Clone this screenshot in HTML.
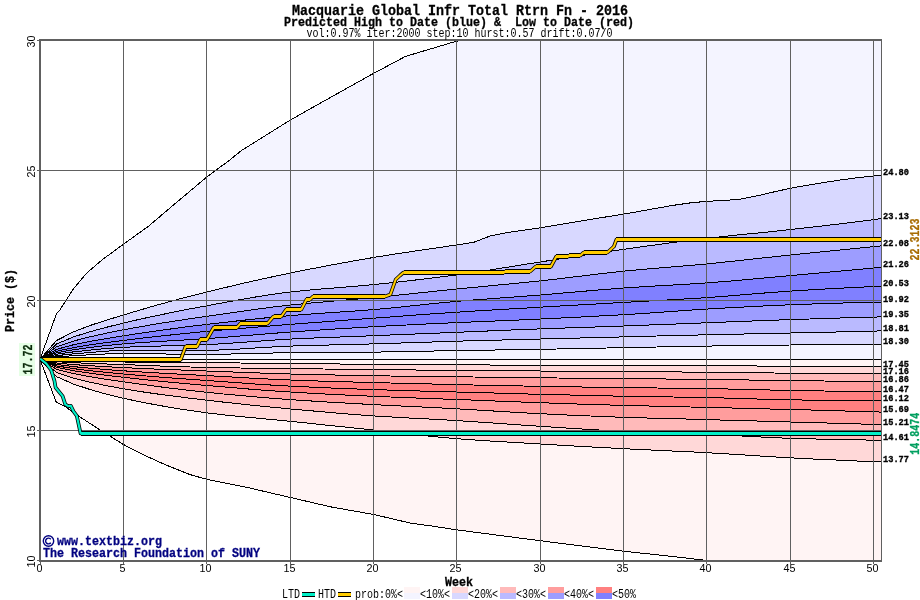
<!DOCTYPE html>
<html><head><meta charset="utf-8"><title>Predicted High to Date / Low to Date</title>
<style>
html,body{margin:0;padding:0;background:#ffffff;}
body{width:920px;height:600px;overflow:hidden;font-family:"Liberation Mono",monospace;}
svg{display:block;position:absolute;left:0;top:0;}
svg{font-family:"Liberation Mono",monospace;}
.b{font-weight:bold;}
</style></head><body>
<svg width="920" height="600" viewBox="0 0 920 600">
<defs><clipPath id="plot"><rect x="40" y="40" width="841" height="520"/></clipPath></defs>
<rect x="0" y="0" width="920" height="600" fill="#ffffff"/>
<g clip-path="url(#plot)" shape-rendering="crispEdges">
<polygon fill="#f4f4ff" points="40.0,359.3 56.4,313.9 56.7,313.6 59.8,310.0 73.3,289.0 73.5,288.8 87.2,272.5 90.0,270.2 103.5,258.8 106.7,256.4 123.4,244.4 123.5,244.2 140.0,232.3 148.5,226.2 156.7,219.3 173.4,205.1 173.5,205.0 190.0,191.1 206.7,177.0 206.8,177.0 223.4,164.7 229.8,160.0 240.1,151.6 241.2,150.7 256.7,141.0 273.4,130.6 290.1,120.2 290.2,120.1 306.8,110.8 323.4,101.4 324.8,100.6 340.1,92.1 356.8,82.7 373.4,73.4 373.5,73.4 390.1,64.6 405.5,56.4 406.8,56.0 423.5,51.0 440.1,46.1 456.8,41.1 465.0,40.0 473.5,20.0 490.1,20.0 506.8,20.0 523.5,20.0 540.2,20.0 556.8,20.0 573.5,20.0 590.2,20.0 606.8,20.0 623.5,20.0 640.2,20.0 656.9,20.0 673.5,20.0 690.2,20.0 706.9,20.0 723.6,20.0 740.2,20.0 756.9,20.0 773.6,20.0 790.2,20.0 806.9,20.0 823.6,20.0 840.3,20.0 856.9,20.0 873.6,20.0 881.0,20.0 881.0,175.2 873.6,176.0 856.9,177.8 840.3,180.0 823.6,182.5 806.9,185.3 790.2,188.3 773.6,192.0 756.9,195.9 740.2,199.2 723.6,200.5 706.9,201.3 690.2,202.9 673.5,205.3 656.9,208.2 640.2,211.2 623.5,214.1 606.8,216.8 590.2,219.5 573.5,222.3 556.8,225.0 540.2,227.8 523.5,230.2 506.8,232.7 490.1,236.0 473.5,242.4 456.8,244.9 440.1,247.4 423.5,249.8 406.8,252.3 390.1,254.8 373.4,257.5 356.8,260.4 340.1,263.4 323.4,266.5 306.8,269.7 290.1,273.1 273.4,276.6 256.7,280.2 240.1,284.0 223.4,288.0 206.7,292.0 190.0,296.2 173.4,300.6 156.7,305.2 140.0,310.0 123.4,315.0 106.7,320.1 90.0,325.5 73.3,332.0 56.7,340.4 40.0,359.3"/>
<polygon fill="#d8d8ff" points="40.0,359.3 56.7,340.4 73.3,332.0 90.0,325.5 106.7,320.1 123.4,315.0 140.0,310.0 156.7,305.2 173.4,300.6 190.0,296.2 206.7,292.0 223.4,288.0 240.1,284.0 256.7,280.2 273.4,276.6 290.1,273.1 306.8,269.7 323.4,266.5 340.1,263.4 356.8,260.4 373.4,257.5 390.1,254.8 406.8,252.3 423.5,249.8 440.1,247.4 456.8,244.9 473.5,242.4 490.1,236.0 506.8,232.7 523.5,230.2 540.2,227.8 556.8,225.0 573.5,222.3 590.2,219.5 606.8,216.8 623.5,214.1 640.2,211.2 656.9,208.2 673.5,205.3 690.2,202.9 706.9,201.3 723.6,200.5 740.2,199.2 756.9,195.9 773.6,192.0 790.2,188.3 806.9,185.3 823.6,182.5 840.3,180.0 856.9,177.8 873.6,176.0 881.0,175.2 881.0,218.6 873.6,219.7 856.9,221.8 840.3,223.8 823.6,225.8 806.9,227.7 790.2,229.6 773.6,231.4 756.9,233.1 740.2,234.7 723.6,236.5 706.9,238.3 690.2,240.3 673.5,242.4 656.9,244.7 640.2,247.0 623.5,249.3 606.8,251.7 590.2,254.2 573.5,256.8 556.8,259.4 540.2,262.0 523.5,264.6 506.8,267.3 490.1,270.0 473.5,272.6 456.8,274.9 440.1,277.0 423.5,279.1 406.8,281.0 390.1,282.9 373.4,284.6 356.8,286.1 340.1,287.5 323.4,288.8 306.8,290.3 290.1,292.0 273.4,294.2 256.7,296.8 240.1,299.7 223.4,302.7 206.7,305.8 190.0,308.9 173.4,312.2 156.7,315.6 140.0,319.2 123.4,323.1 106.7,327.2 90.0,331.7 73.3,337.0 56.7,343.9 40.0,359.3"/>
<polygon fill="#babaff" points="40.0,359.3 56.7,343.9 73.3,337.0 90.0,331.7 106.7,327.2 123.4,323.1 140.0,319.2 156.7,315.6 173.4,312.2 190.0,308.9 206.7,305.8 223.4,302.7 240.1,299.7 256.7,296.8 273.4,294.2 290.1,292.0 306.8,290.3 323.4,288.8 340.1,287.5 356.8,286.1 373.4,284.6 390.1,282.9 406.8,281.0 423.5,279.1 440.1,277.0 456.8,274.9 473.5,272.6 490.1,270.0 506.8,267.3 523.5,264.6 540.2,262.0 556.8,259.4 573.5,256.8 590.2,254.2 606.8,251.7 623.5,249.3 640.2,247.0 656.9,244.7 673.5,242.4 690.2,240.3 706.9,238.3 723.6,236.5 740.2,234.7 756.9,233.1 773.6,231.4 790.2,229.6 806.9,227.7 823.6,225.8 840.3,223.8 856.9,221.8 873.6,219.7 881.0,218.6 881.0,245.9 873.6,246.7 856.9,248.3 840.3,250.0 823.6,251.6 806.9,253.3 790.2,255.0 773.6,256.8 756.9,258.6 740.2,260.4 723.6,262.2 706.9,263.9 690.2,265.4 673.5,266.8 656.9,268.2 640.2,269.6 623.5,271.2 606.8,273.0 590.2,275.0 573.5,277.0 556.8,279.0 540.2,280.9 523.5,282.6 506.8,284.2 490.1,285.8 473.5,287.4 456.8,289.0 440.1,290.7 423.5,292.5 406.8,294.2 390.1,296.0 373.4,297.6 356.8,299.1 340.1,300.5 323.4,302.0 306.8,303.4 290.1,305.1 273.4,307.0 256.7,309.2 240.1,311.5 223.4,313.9 206.7,316.3 190.0,318.7 173.4,321.3 156.7,323.9 140.0,326.8 123.4,329.8 106.7,333.1 90.0,336.8 73.3,341.1 56.7,346.7 40.0,359.3"/>
<polygon fill="#9d9dff" points="40.0,359.3 56.7,346.7 73.3,341.1 90.0,336.8 106.7,333.1 123.4,329.8 140.0,326.8 156.7,323.9 173.4,321.3 190.0,318.7 206.7,316.3 223.4,313.9 240.1,311.5 256.7,309.2 273.4,307.0 290.1,305.1 306.8,303.4 323.4,302.0 340.1,300.5 356.8,299.1 373.4,297.6 390.1,296.0 406.8,294.2 423.5,292.5 440.1,290.7 456.8,289.0 473.5,287.4 490.1,285.8 506.8,284.2 523.5,282.6 540.2,280.9 556.8,279.0 573.5,277.0 590.2,275.0 606.8,273.0 623.5,271.2 640.2,269.6 656.9,268.2 673.5,266.8 690.2,265.4 706.9,263.9 723.6,262.2 740.2,260.4 756.9,258.6 773.6,256.8 790.2,255.0 806.9,253.3 823.6,251.6 840.3,250.0 856.9,248.3 873.6,246.7 881.0,245.9 881.0,267.2 873.6,268.0 856.9,269.6 840.3,271.1 823.6,272.6 806.9,274.1 790.2,275.6 773.6,277.1 756.9,278.7 740.2,280.2 723.6,281.6 706.9,282.9 690.2,284.0 673.5,285.0 656.9,285.9 640.2,286.9 623.5,288.0 606.8,289.3 590.2,290.7 573.5,292.1 556.8,293.6 540.2,295.0 523.5,296.3 506.8,297.5 490.1,298.8 473.5,300.0 456.8,301.4 440.1,302.9 423.5,304.6 406.8,306.4 390.1,308.1 373.4,309.6 356.8,310.9 340.1,312.0 323.4,313.1 306.8,314.3 290.1,315.6 273.4,317.1 256.7,318.8 240.1,320.6 223.4,322.5 206.7,324.4 190.0,326.4 173.4,328.6 156.7,330.9 140.0,333.3 123.4,335.8 106.7,338.5 90.0,341.4 73.3,344.8 56.7,349.3 40.0,359.3"/>
<polygon fill="#8080ff" points="40.0,359.3 56.7,349.3 73.3,344.8 90.0,341.4 106.7,338.5 123.4,335.8 140.0,333.3 156.7,330.9 173.4,328.6 190.0,326.4 206.7,324.4 223.4,322.5 240.1,320.6 256.7,318.8 273.4,317.1 290.1,315.6 306.8,314.3 323.4,313.1 340.1,312.0 356.8,310.9 373.4,309.6 390.1,308.1 406.8,306.4 423.5,304.6 440.1,302.9 456.8,301.4 473.5,300.0 490.1,298.8 506.8,297.5 523.5,296.3 540.2,295.0 556.8,293.6 573.5,292.1 590.2,290.7 606.8,289.3 623.5,288.0 640.2,286.9 656.9,285.9 673.5,285.0 690.2,284.0 706.9,282.9 723.6,281.6 740.2,280.2 756.9,278.7 773.6,277.1 790.2,275.6 806.9,274.1 823.6,272.6 840.3,271.1 856.9,269.6 873.6,268.0 881.0,267.2 881.0,286.2 873.6,286.6 856.9,287.3 840.3,288.2 823.6,289.1 806.9,290.1 790.2,291.1 773.6,292.3 756.9,293.6 740.2,295.0 723.6,296.4 706.9,297.6 690.2,298.7 673.5,299.6 656.9,300.6 640.2,301.5 623.5,302.4 606.8,303.4 590.2,304.3 573.5,305.3 556.8,306.2 540.2,307.2 523.5,308.2 506.8,309.1 490.1,310.1 473.5,311.1 456.8,312.2 440.1,313.3 423.5,314.5 406.8,315.7 390.1,317.0 373.4,318.2 356.8,319.4 340.1,320.6 323.4,321.9 306.8,323.1 290.1,324.4 273.4,325.7 256.7,327.1 240.1,328.5 223.4,329.9 206.7,331.4 190.0,333.0 173.4,334.7 156.7,336.5 140.0,338.4 123.4,340.4 106.7,342.5 90.0,344.9 73.3,347.7 56.7,351.2 40.0,359.3"/>
<polygon fill="#8080ff" points="40.0,359.3 56.7,351.2 73.3,347.7 90.0,344.9 106.7,342.5 123.4,340.4 140.0,338.4 156.7,336.5 173.4,334.7 190.0,333.0 206.7,331.4 223.4,329.9 240.1,328.5 256.7,327.1 273.4,325.7 290.1,324.4 306.8,323.1 323.4,321.9 340.1,320.6 356.8,319.4 373.4,318.2 390.1,317.0 406.8,315.7 423.5,314.5 440.1,313.3 456.8,312.2 473.5,311.1 490.1,310.1 506.8,309.1 523.5,308.2 540.2,307.2 556.8,306.2 573.5,305.3 590.2,304.3 606.8,303.4 623.5,302.4 640.2,301.5 656.9,300.6 673.5,299.6 690.2,298.7 706.9,297.6 723.6,296.4 740.2,295.0 756.9,293.6 773.6,292.3 790.2,291.1 806.9,290.1 823.6,289.1 840.3,288.2 856.9,287.3 873.6,286.6 881.0,286.2 881.0,302.1 873.6,302.3 856.9,302.6 840.3,303.1 823.6,303.6 806.9,304.2 790.2,304.8 773.6,305.5 756.9,306.3 740.2,307.2 723.6,308.1 706.9,309.1 690.2,310.1 673.5,311.3 656.9,312.5 640.2,313.7 623.5,314.7 606.8,315.6 590.2,316.5 573.5,317.4 556.8,318.2 540.2,319.0 523.5,319.8 506.8,320.5 490.1,321.2 473.5,321.9 456.8,322.6 440.1,323.4 423.5,324.1 406.8,325.0 390.1,325.8 373.4,326.7 356.8,327.7 340.1,328.7 323.4,329.8 306.8,330.9 290.1,332.1 273.4,333.3 256.7,334.7 240.1,336.0 223.4,337.4 206.7,338.6 190.0,339.7 173.4,340.6 156.7,341.6 140.0,342.6 123.4,343.9 106.7,345.5 90.0,347.5 73.3,349.8 56.7,352.7 40.0,359.3"/>
<polygon fill="#9d9dff" points="40.0,359.3 56.7,352.7 73.3,349.8 90.0,347.5 106.7,345.5 123.4,343.9 140.0,342.6 156.7,341.6 173.4,340.6 190.0,339.7 206.7,338.6 223.4,337.4 240.1,336.0 256.7,334.7 273.4,333.3 290.1,332.1 306.8,330.9 323.4,329.8 340.1,328.7 356.8,327.7 373.4,326.7 390.1,325.8 406.8,325.0 423.5,324.1 440.1,323.4 456.8,322.6 473.5,321.9 490.1,321.2 506.8,320.5 523.5,319.8 540.2,319.0 556.8,318.2 573.5,317.4 590.2,316.5 606.8,315.6 623.5,314.7 640.2,313.7 656.9,312.5 673.5,311.3 690.2,310.1 706.9,309.1 723.6,308.1 740.2,307.2 756.9,306.3 773.6,305.5 790.2,304.8 806.9,304.2 823.6,303.6 840.3,303.1 856.9,302.6 873.6,302.3 881.0,302.1 881.0,316.9 873.6,317.1 856.9,317.6 840.3,318.0 823.6,318.5 806.9,319.1 790.2,319.6 773.6,320.2 756.9,320.8 740.2,321.5 723.6,322.1 706.9,322.8 690.2,323.4 673.5,324.1 656.9,324.7 640.2,325.4 623.5,326.0 606.8,326.6 590.2,327.2 573.5,327.7 556.8,328.3 540.2,328.9 523.5,329.5 506.8,330.2 490.1,330.9 473.5,331.6 456.8,332.3 440.1,333.0 423.5,333.7 406.8,334.3 390.1,335.0 373.4,335.7 356.8,336.4 340.1,337.0 323.4,337.6 306.8,338.3 290.1,339.1 273.4,340.1 256.7,341.3 240.1,342.5 223.4,343.7 206.7,344.6 190.0,345.2 173.4,345.7 156.7,346.1 140.0,346.6 123.4,347.3 106.7,348.5 90.0,350.1 73.3,351.9 56.7,354.2 40.0,359.3"/>
<polygon fill="#babaff" points="40.0,359.3 56.7,354.2 73.3,351.9 90.0,350.1 106.7,348.5 123.4,347.3 140.0,346.6 156.7,346.1 173.4,345.7 190.0,345.2 206.7,344.6 223.4,343.7 240.1,342.5 256.7,341.3 273.4,340.1 290.1,339.1 306.8,338.3 323.4,337.6 340.1,337.0 356.8,336.4 373.4,335.7 390.1,335.0 406.8,334.3 423.5,333.7 440.1,333.0 456.8,332.3 473.5,331.6 490.1,330.9 506.8,330.2 523.5,329.5 540.2,328.9 556.8,328.3 573.5,327.7 590.2,327.2 606.8,326.6 623.5,326.0 640.2,325.4 656.9,324.7 673.5,324.1 690.2,323.4 706.9,322.8 723.6,322.1 740.2,321.5 756.9,320.8 773.6,320.2 790.2,319.6 806.9,319.1 823.6,318.5 840.3,318.0 856.9,317.6 873.6,317.1 881.0,316.9 881.0,330.9 873.6,331.1 856.9,331.5 840.3,331.9 823.6,332.3 806.9,332.6 790.2,333.0 773.6,333.4 756.9,333.7 740.2,334.1 723.6,334.4 706.9,334.8 690.2,335.2 673.5,335.6 656.9,336.0 640.2,336.5 623.5,336.9 606.8,337.3 590.2,337.7 573.5,338.2 556.8,338.6 540.2,339.0 523.5,339.4 506.8,339.9 490.1,340.3 473.5,340.7 456.8,341.2 440.1,341.7 423.5,342.3 406.8,342.8 390.1,343.4 373.4,343.9 356.8,344.3 340.1,344.8 323.4,345.1 306.8,345.6 290.1,346.1 273.4,346.9 256.7,347.9 240.1,349.0 223.4,349.9 206.7,350.3 190.0,350.4 173.4,350.4 156.7,350.4 140.0,350.4 123.4,350.5 106.7,351.1 90.0,352.5 73.3,353.9 56.7,355.6 40.0,359.3"/>
<polygon fill="#d8d8ff" points="40.0,359.3 56.7,355.6 73.3,353.9 90.0,352.5 106.7,351.1 123.4,350.5 140.0,350.4 156.7,350.4 173.4,350.4 190.0,350.4 206.7,350.3 223.4,349.9 240.1,349.0 256.7,347.9 273.4,346.9 290.1,346.1 306.8,345.6 323.4,345.1 340.1,344.8 356.8,344.3 373.4,343.9 390.1,343.4 406.8,342.8 423.5,342.3 440.1,341.7 456.8,341.2 473.5,340.7 490.1,340.3 506.8,339.9 523.5,339.4 540.2,339.0 556.8,338.6 573.5,338.2 590.2,337.7 606.8,337.3 623.5,336.9 640.2,336.5 656.9,336.0 673.5,335.6 690.2,335.2 706.9,334.8 723.6,334.4 740.2,334.1 756.9,333.7 773.6,333.4 790.2,333.0 806.9,332.6 823.6,332.3 840.3,331.9 856.9,331.5 873.6,331.1 881.0,330.9 881.0,344.2 873.6,344.3 856.9,344.4 840.3,344.5 823.6,344.7 806.9,344.8 790.2,345.0 773.6,345.2 756.9,345.4 740.2,345.6 723.6,345.8 706.9,346.1 690.2,346.4 673.5,346.7 656.9,347.0 640.2,347.4 623.5,347.7 606.8,348.0 590.2,348.4 573.5,348.7 556.8,349.0 540.2,349.3 523.5,349.6 506.8,349.8 490.1,350.1 473.5,350.3 456.8,350.6 440.1,350.9 423.5,351.2 406.8,351.6 390.1,351.9 373.4,352.1 356.8,352.2 340.1,352.4 323.4,352.4 306.8,352.6 290.1,352.7 273.4,353.0 256.7,353.4 240.1,353.8 223.4,354.2 206.7,354.4 190.0,354.3 173.4,354.1 156.7,353.9 140.0,353.6 123.4,353.5 106.7,353.9 90.0,354.8 73.3,355.7 56.7,356.8 40.0,359.3"/>
<polygon fill="#f4f4ff" points="40.0,359.3 56.7,356.8 73.3,355.7 90.0,354.8 106.7,353.9 123.4,353.5 140.0,353.6 156.7,353.9 173.4,354.1 190.0,354.3 206.7,354.4 223.4,354.2 240.1,353.8 256.7,353.4 273.4,353.0 290.1,352.7 306.8,352.6 323.4,352.4 340.1,352.4 356.8,352.2 373.4,352.1 390.1,351.9 406.8,351.6 423.5,351.2 440.1,350.9 456.8,350.6 473.5,350.3 490.1,350.1 506.8,349.8 523.5,349.6 540.2,349.3 556.8,349.0 573.5,348.7 590.2,348.4 606.8,348.0 623.5,347.7 640.2,347.4 656.9,347.0 673.5,346.7 690.2,346.4 706.9,346.1 723.6,345.8 740.2,345.6 756.9,345.4 773.6,345.2 790.2,345.0 806.9,344.8 823.6,344.7 840.3,344.5 856.9,344.4 873.6,344.3 881.0,344.2 881.0,359.3 873.6,359.3 856.9,359.3 840.3,359.3 823.6,359.3 806.9,359.3 790.2,359.3 773.6,359.3 756.9,359.3 740.2,359.3 723.6,359.3 706.9,359.3 690.2,359.3 673.5,359.3 656.9,359.3 640.2,359.3 623.5,359.3 606.8,359.3 590.2,359.3 573.5,359.3 556.8,359.3 540.2,359.3 523.5,359.3 506.8,359.3 490.1,359.3 473.5,359.3 456.8,359.3 440.1,359.3 423.5,359.3 406.8,359.3 390.1,359.3 373.4,359.3 356.8,359.3 340.1,359.3 323.4,359.3 306.8,359.3 290.1,359.3 273.4,359.3 256.7,359.3 240.1,359.3 223.4,359.3 206.7,359.3 190.0,359.3 173.4,359.3 156.7,359.3 140.0,359.3 123.4,359.3 106.7,359.3 90.0,359.3 73.3,359.3 56.7,359.3 40.0,359.3"/>
<polygon fill="#fff4f4" points="40.0,359.3 56.7,359.3 73.3,359.3 90.0,359.3 106.7,359.3 123.4,359.3 140.0,359.3 156.7,359.3 173.4,359.3 190.0,359.3 206.7,359.3 223.4,359.3 240.1,359.3 256.7,359.3 273.4,359.3 290.1,359.3 306.8,359.3 323.4,359.3 340.1,359.3 356.8,359.3 373.4,359.3 390.1,359.3 406.8,359.3 423.5,359.3 440.1,359.3 456.8,359.3 473.5,359.3 490.1,359.3 506.8,359.3 523.5,359.3 540.2,359.3 556.8,359.3 573.5,359.3 590.2,359.3 606.8,359.3 623.5,359.3 640.2,359.3 656.9,359.3 673.5,359.3 690.2,359.3 706.9,359.3 723.6,359.3 740.2,359.3 756.9,359.3 773.6,359.3 790.2,359.3 806.9,359.3 823.6,359.3 840.3,359.3 856.9,359.3 873.6,359.3 881.0,359.3 881.0,366.3 873.6,366.3 856.9,366.3 840.3,366.2 823.6,366.2 806.9,366.1 790.2,366.1 773.6,366.0 756.9,366.0 740.2,365.9 723.6,365.9 706.9,365.8 690.2,365.7 673.5,365.7 656.9,365.6 640.2,365.6 623.5,365.5 606.8,365.4 590.2,365.4 573.5,365.3 556.8,365.3 540.2,365.2 523.5,365.1 506.8,365.1 490.1,365.0 473.5,364.9 456.8,364.8 440.1,364.7 423.5,364.6 406.8,364.5 390.1,364.4 373.4,364.3 356.8,364.2 340.1,364.0 323.4,363.9 306.8,363.8 290.1,363.6 273.4,363.4 256.7,363.2 240.1,363.0 223.4,362.8 206.7,362.6 190.0,362.5 173.4,362.4 156.7,362.3 140.0,362.2 123.4,362.0 106.7,361.7 90.0,361.4 73.3,361.0 56.7,360.5 40.0,359.3"/>
<polygon fill="#ffd8d8" points="40.0,359.3 56.7,360.5 73.3,361.0 90.0,361.4 106.7,361.7 123.4,362.0 140.0,362.2 156.7,362.3 173.4,362.4 190.0,362.5 206.7,362.6 223.4,362.8 240.1,363.0 256.7,363.2 273.4,363.4 290.1,363.6 306.8,363.8 323.4,363.9 340.1,364.0 356.8,364.2 373.4,364.3 390.1,364.4 406.8,364.5 423.5,364.6 440.1,364.7 456.8,364.8 473.5,364.9 490.1,365.0 506.8,365.1 523.5,365.1 540.2,365.2 556.8,365.3 573.5,365.3 590.2,365.4 606.8,365.4 623.5,365.5 640.2,365.6 656.9,365.6 673.5,365.7 690.2,365.7 706.9,365.8 723.6,365.9 740.2,365.9 756.9,366.0 773.6,366.0 790.2,366.1 806.9,366.1 823.6,366.2 840.3,366.2 856.9,366.3 873.6,366.3 881.0,366.3 881.0,373.8 873.6,373.8 856.9,373.7 840.3,373.6 823.6,373.5 806.9,373.3 790.2,373.2 773.6,373.0 756.9,372.8 740.2,372.6 723.6,372.4 706.9,372.2 690.2,372.1 673.5,371.9 656.9,371.8 640.2,371.7 623.5,371.6 606.8,371.5 590.2,371.4 573.5,371.2 556.8,371.1 540.2,371.0 523.5,370.9 506.8,370.8 490.1,370.7 473.5,370.5 456.8,370.4 440.1,370.3 423.5,370.1 406.8,369.9 390.1,369.8 373.4,369.6 356.8,369.4 340.1,369.2 323.4,369.0 306.8,368.8 290.1,368.6 273.4,368.4 256.7,368.2 240.1,368.0 223.4,367.7 206.7,367.4 190.0,367.0 173.4,366.5 156.7,365.9 140.0,365.2 123.4,364.6 106.7,364.0 90.0,363.4 73.3,362.7 56.7,361.7 40.0,359.3"/>
<polygon fill="#ffbaba" points="40.0,359.3 56.7,361.7 73.3,362.7 90.0,363.4 106.7,364.0 123.4,364.6 140.0,365.2 156.7,365.9 173.4,366.5 190.0,367.0 206.7,367.4 223.4,367.7 240.1,368.0 256.7,368.2 273.4,368.4 290.1,368.6 306.8,368.8 323.4,369.0 340.1,369.2 356.8,369.4 373.4,369.6 390.1,369.8 406.8,369.9 423.5,370.1 440.1,370.3 456.8,370.4 473.5,370.5 490.1,370.7 506.8,370.8 523.5,370.9 540.2,371.0 556.8,371.1 573.5,371.2 590.2,371.4 606.8,371.5 623.5,371.6 640.2,371.7 656.9,371.8 673.5,371.9 690.2,372.1 706.9,372.2 723.6,372.4 740.2,372.6 756.9,372.8 773.6,373.0 790.2,373.2 806.9,373.3 823.6,373.5 840.3,373.6 856.9,373.7 873.6,373.8 881.0,373.8 881.0,381.6 873.6,381.6 856.9,381.4 840.3,381.2 823.6,381.0 806.9,380.8 790.2,380.6 773.6,380.4 756.9,380.1 740.2,379.9 723.6,379.6 706.9,379.4 690.2,379.2 673.5,379.1 656.9,378.9 640.2,378.8 623.5,378.6 606.8,378.4 590.2,378.3 573.5,378.1 556.8,378.0 540.2,377.8 523.5,377.6 506.8,377.4 490.1,377.2 473.5,377.0 456.8,376.8 440.1,376.6 423.5,376.4 406.8,376.2 390.1,376.0 373.4,375.7 356.8,375.4 340.1,375.1 323.4,374.8 306.8,374.4 290.1,374.0 273.4,373.5 256.7,372.9 240.1,372.3 223.4,371.6 206.7,371.0 190.0,370.4 173.4,369.7 156.7,369.1 140.0,368.4 123.4,367.6 106.7,366.7 90.0,365.7 73.3,364.6 56.7,363.0 40.0,359.3"/>
<polygon fill="#ff9d9d" points="40.0,359.3 56.7,363.0 73.3,364.6 90.0,365.7 106.7,366.7 123.4,367.6 140.0,368.4 156.7,369.1 173.4,369.7 190.0,370.4 206.7,371.0 223.4,371.6 240.1,372.3 256.7,372.9 273.4,373.5 290.1,374.0 306.8,374.4 323.4,374.8 340.1,375.1 356.8,375.4 373.4,375.7 390.1,376.0 406.8,376.2 423.5,376.4 440.1,376.6 456.8,376.8 473.5,377.0 490.1,377.2 506.8,377.4 523.5,377.6 540.2,377.8 556.8,378.0 573.5,378.1 590.2,378.3 606.8,378.4 623.5,378.6 640.2,378.8 656.9,378.9 673.5,379.1 690.2,379.2 706.9,379.4 723.6,379.6 740.2,379.9 756.9,380.1 773.6,380.4 790.2,380.6 806.9,380.8 823.6,381.0 840.3,381.2 856.9,381.4 873.6,381.6 881.0,381.6 881.0,391.8 873.6,391.7 856.9,391.5 840.3,391.2 823.6,391.0 806.9,390.7 790.2,390.4 773.6,390.1 756.9,389.7 740.2,389.3 723.6,388.9 706.9,388.6 690.2,388.4 673.5,388.2 656.9,388.0 640.2,387.8 623.5,387.6 606.8,387.4 590.2,387.1 573.5,386.9 556.8,386.6 540.2,386.3 523.5,386.0 506.8,385.7 490.1,385.3 473.5,385.0 456.8,384.6 440.1,384.2 423.5,383.8 406.8,383.5 390.1,383.0 373.4,382.6 356.8,382.1 340.1,381.7 323.4,381.2 306.8,380.6 290.1,380.0 273.4,379.3 256.7,378.4 240.1,377.5 223.4,376.5 206.7,375.6 190.0,374.7 173.4,373.8 156.7,372.9 140.0,371.9 123.4,370.8 106.7,369.6 90.0,368.2 73.3,366.6 56.7,364.4 40.0,359.3"/>
<polygon fill="#ff8080" points="40.0,359.3 56.7,364.4 73.3,366.6 90.0,368.2 106.7,369.6 123.4,370.8 140.0,371.9 156.7,372.9 173.4,373.8 190.0,374.7 206.7,375.6 223.4,376.5 240.1,377.5 256.7,378.4 273.4,379.3 290.1,380.0 306.8,380.6 323.4,381.2 340.1,381.7 356.8,382.1 373.4,382.6 390.1,383.0 406.8,383.5 423.5,383.8 440.1,384.2 456.8,384.6 473.5,385.0 490.1,385.3 506.8,385.7 523.5,386.0 540.2,386.3 556.8,386.6 573.5,386.9 590.2,387.1 606.8,387.4 623.5,387.6 640.2,387.8 656.9,388.0 673.5,388.2 690.2,388.4 706.9,388.6 723.6,388.9 740.2,389.3 756.9,389.7 773.6,390.1 790.2,390.4 806.9,390.7 823.6,391.0 840.3,391.2 856.9,391.5 873.6,391.7 881.0,391.8 881.0,400.9 873.6,400.8 856.9,400.7 840.3,400.5 823.6,400.3 806.9,400.1 790.2,399.8 773.6,399.5 756.9,399.0 740.2,398.5 723.6,398.0 706.9,397.6 690.2,397.3 673.5,397.0 656.9,396.8 640.2,396.5 623.5,396.2 606.8,395.9 590.2,395.5 573.5,395.1 556.8,394.7 540.2,394.3 523.5,393.9 506.8,393.4 490.1,392.9 473.5,392.5 456.8,392.0 440.1,391.5 423.5,391.1 406.8,390.6 390.1,390.1 373.4,389.6 356.8,389.0 340.1,388.4 323.4,387.7 306.8,386.9 290.1,386.1 273.4,385.2 256.7,384.1 240.1,382.9 223.4,381.7 206.7,380.5 190.0,379.3 173.4,378.1 156.7,376.8 140.0,375.5 123.4,374.0 106.7,372.4 90.0,370.7 73.3,368.6 56.7,365.9 40.0,359.3"/>
<polygon fill="#ff8080" points="40.0,359.3 56.7,365.9 73.3,368.6 90.0,370.7 106.7,372.4 123.4,374.0 140.0,375.5 156.7,376.8 173.4,378.1 190.0,379.3 206.7,380.5 223.4,381.7 240.1,382.9 256.7,384.1 273.4,385.2 290.1,386.1 306.8,386.9 323.4,387.7 340.1,388.4 356.8,389.0 373.4,389.6 390.1,390.1 406.8,390.6 423.5,391.1 440.1,391.5 456.8,392.0 473.5,392.5 490.1,392.9 506.8,393.4 523.5,393.9 540.2,394.3 556.8,394.7 573.5,395.1 590.2,395.5 606.8,395.9 623.5,396.2 640.2,396.5 656.9,396.8 673.5,397.0 690.2,397.3 706.9,397.6 723.6,398.0 740.2,398.5 756.9,399.0 773.6,399.5 790.2,399.8 806.9,400.1 823.6,400.3 840.3,400.5 856.9,400.7 873.6,400.8 881.0,400.9 881.0,412.1 873.6,411.8 856.9,411.3 840.3,410.9 823.6,410.4 806.9,409.9 790.2,409.5 773.6,409.1 756.9,408.6 740.2,408.2 723.6,407.8 706.9,407.4 690.2,407.0 673.5,406.6 656.9,406.2 640.2,405.8 623.5,405.4 606.8,404.9 590.2,404.4 573.5,403.9 556.8,403.3 540.2,402.7 523.5,402.1 506.8,401.5 490.1,400.8 473.5,400.1 456.8,399.5 440.1,398.9 423.5,398.3 406.8,397.6 390.1,397.0 373.4,396.3 356.8,395.5 340.1,394.8 323.4,393.9 306.8,393.0 290.1,392.0 273.4,390.9 256.7,389.7 240.1,388.3 223.4,386.9 206.7,385.5 190.0,384.0 173.4,382.5 156.7,380.9 140.0,379.1 123.4,377.3 106.7,375.4 90.0,373.2 73.3,370.7 56.7,367.3 40.0,359.3"/>
<polygon fill="#ff9d9d" points="40.0,359.3 56.7,367.3 73.3,370.7 90.0,373.2 106.7,375.4 123.4,377.3 140.0,379.1 156.7,380.9 173.4,382.5 190.0,384.0 206.7,385.5 223.4,386.9 240.1,388.3 256.7,389.7 273.4,390.9 290.1,392.0 306.8,393.0 323.4,393.9 340.1,394.8 356.8,395.5 373.4,396.3 390.1,397.0 406.8,397.6 423.5,398.3 440.1,398.9 456.8,399.5 473.5,400.1 490.1,400.8 506.8,401.5 523.5,402.1 540.2,402.7 556.8,403.3 573.5,403.9 590.2,404.4 606.8,404.9 623.5,405.4 640.2,405.8 656.9,406.2 673.5,406.6 690.2,407.0 706.9,407.4 723.6,407.8 740.2,408.2 756.9,408.6 773.6,409.1 790.2,409.5 806.9,409.9 823.6,410.4 840.3,410.9 856.9,411.3 873.6,411.8 881.0,412.1 881.0,424.5 873.6,424.3 856.9,423.9 840.3,423.4 823.6,422.9 806.9,422.5 790.2,422.0 773.6,421.5 756.9,421.0 740.2,420.6 723.6,420.1 706.9,419.6 690.2,419.1 673.5,418.7 656.9,418.3 640.2,417.8 623.5,417.3 606.8,416.7 590.2,416.0 573.5,415.3 556.8,414.5 540.2,413.7 523.5,412.8 506.8,411.8 490.1,410.8 473.5,409.8 456.8,408.8 440.1,407.9 423.5,407.1 406.8,406.3 390.1,405.5 373.4,404.6 356.8,403.7 340.1,402.7 323.4,401.8 306.8,400.7 290.1,399.6 273.4,398.4 256.7,397.0 240.1,395.5 223.4,394.0 206.7,392.3 190.0,390.5 173.4,388.5 156.7,386.4 140.0,384.1 123.4,381.8 106.7,379.4 90.0,376.7 73.3,373.5 56.7,369.4 40.0,359.3"/>
<polygon fill="#ffbaba" points="40.0,359.3 56.7,369.4 73.3,373.5 90.0,376.7 106.7,379.4 123.4,381.8 140.0,384.1 156.7,386.4 173.4,388.5 190.0,390.5 206.7,392.3 223.4,394.0 240.1,395.5 256.7,397.0 273.4,398.4 290.1,399.6 306.8,400.7 323.4,401.8 340.1,402.7 356.8,403.7 373.4,404.6 390.1,405.5 406.8,406.3 423.5,407.1 440.1,407.9 456.8,408.8 473.5,409.8 490.1,410.8 506.8,411.8 523.5,412.8 540.2,413.7 556.8,414.5 573.5,415.3 590.2,416.0 606.8,416.7 623.5,417.3 640.2,417.8 656.9,418.3 673.5,418.7 690.2,419.1 706.9,419.6 723.6,420.1 740.2,420.6 756.9,421.0 773.6,421.5 790.2,422.0 806.9,422.5 823.6,422.9 840.3,423.4 856.9,423.9 873.6,424.3 881.0,424.5 881.0,440.1 873.6,440.1 856.9,439.9 840.3,439.6 823.6,439.2 806.9,438.8 790.2,438.3 773.6,437.7 756.9,436.8 740.2,435.9 723.6,435.0 706.9,434.2 690.2,433.6 673.5,433.0 656.9,432.5 640.2,432.0 623.5,431.3 606.8,430.5 590.2,429.5 573.5,428.5 556.8,427.4 540.2,426.3 523.5,425.2 506.8,424.0 490.1,422.8 473.5,421.7 456.8,420.6 440.1,419.6 423.5,418.7 406.8,417.9 390.1,416.9 373.4,415.9 356.8,414.7 340.1,413.4 323.4,411.9 306.8,410.4 290.1,408.9 273.4,407.3 256.7,405.7 240.1,403.9 223.4,402.1 206.7,400.2 190.0,398.2 173.4,396.1 156.7,393.9 140.0,391.5 123.4,388.8 106.7,385.7 90.0,382.2 73.3,378.0 56.7,372.5 40.0,359.3"/>
<polygon fill="#ffd8d8" points="40.0,359.3 56.7,372.5 73.3,378.0 90.0,382.2 106.7,385.7 123.4,388.8 140.0,391.5 156.7,393.9 173.4,396.1 190.0,398.2 206.7,400.2 223.4,402.1 240.1,403.9 256.7,405.7 273.4,407.3 290.1,408.9 306.8,410.4 323.4,411.9 340.1,413.4 356.8,414.7 373.4,415.9 390.1,416.9 406.8,417.9 423.5,418.7 440.1,419.6 456.8,420.6 473.5,421.7 490.1,422.8 506.8,424.0 523.5,425.2 540.2,426.3 556.8,427.4 573.5,428.5 590.2,429.5 606.8,430.5 623.5,431.3 640.2,432.0 656.9,432.5 673.5,433.0 690.2,433.6 706.9,434.2 723.6,435.0 740.2,435.9 756.9,436.8 773.6,437.7 790.2,438.3 806.9,438.8 823.6,439.2 840.3,439.6 856.9,439.9 873.6,440.1 881.0,440.1 881.0,462.0 873.6,461.7 856.9,461.0 840.3,460.2 823.6,459.5 806.9,458.7 790.2,457.8 773.6,456.9 756.9,455.8 740.2,454.7 723.6,453.7 706.9,452.7 690.2,451.8 673.5,451.1 656.9,450.3 640.2,449.5 623.5,448.7 606.8,447.8 590.2,446.9 573.5,446.0 556.8,445.0 540.2,444.0 523.5,443.0 506.8,442.0 490.1,441.0 473.5,439.9 456.8,438.7 440.1,437.2 423.5,435.5 406.8,433.7 390.1,431.8 373.4,430.0 356.8,428.3 340.1,426.5 323.4,424.8 306.8,423.0 290.1,421.3 273.4,419.7 256.7,418.1 240.1,416.5 223.4,414.8 206.7,412.8 190.0,410.5 173.4,407.9 156.7,405.0 140.0,401.8 123.4,398.3 106.7,394.3 90.0,389.5 73.3,384.0 56.7,376.7 40.0,359.3"/>
<polygon fill="#fff4f4" points="40.0,359.3 56.7,376.7 73.3,384.0 90.0,389.5 106.7,394.3 123.4,398.3 140.0,401.8 156.7,405.0 173.4,407.9 190.0,410.5 206.7,412.8 223.4,414.8 240.1,416.5 256.7,418.1 273.4,419.7 290.1,421.3 306.8,423.0 323.4,424.8 340.1,426.5 356.8,428.3 373.4,430.0 390.1,431.8 406.8,433.7 423.5,435.5 440.1,437.2 456.8,438.7 473.5,439.9 490.1,441.0 506.8,442.0 523.5,443.0 540.2,444.0 556.8,445.0 573.5,446.0 590.2,446.9 606.8,447.8 623.5,448.7 640.2,449.5 656.9,450.3 673.5,451.1 690.2,451.8 706.9,452.7 723.6,453.7 740.2,454.7 756.9,455.8 773.6,456.9 790.2,457.8 806.9,458.7 823.6,459.5 840.3,460.2 856.9,461.0 873.6,461.7 881.0,462.0 881.0,580.0 873.6,580.0 856.9,580.0 840.3,580.0 823.6,580.0 806.9,580.0 790.2,580.0 773.6,580.0 756.9,580.0 740.2,580.0 723.6,580.0 706.9,580.0 703.0,560.0 690.2,558.5 673.5,556.6 670.1,556.2 656.9,554.8 640.2,553.0 623.5,551.2 623.5,551.2 606.8,549.1 590.2,547.0 573.5,544.9 556.8,542.8 540.2,540.7 540.1,540.7 523.5,538.5 506.8,536.4 490.1,534.2 473.5,532.0 456.8,529.8 456.5,529.8 440.1,527.3 433.6,526.3 423.5,524.9 410.1,523.0 406.8,522.2 390.1,518.3 373.7,514.5 373.4,514.5 356.8,511.5 340.1,508.5 330.9,506.9 323.4,505.2 306.8,501.3 290.4,497.5 290.1,497.4 273.4,493.5 256.7,489.7 248.7,487.8 240.1,486.1 223.4,482.7 206.7,479.3 206.7,479.3 190.0,474.6 190.0,474.6 173.4,468.0 166.4,465.2 156.7,460.8 144.7,455.4 140.0,453.0 123.6,444.6 123.4,444.5 106.7,434.1 99.0,429.3 90.0,423.5 77.3,415.2 73.3,412.4 65.3,406.7 56.7,402.1 56.1,401.8 40.0,359.3"/>
<g fill="none" stroke="#000000" stroke-width="1">
<polyline points="40.0,359.3 56.4,313.9 59.8,310.0 73.5,288.8 87.2,272.5 103.5,258.8 123.5,244.2 148.5,226.2 173.5,205.0 206.8,177.0 229.8,160.0 241.2,150.7 290.2,120.1 324.8,100.6 373.5,73.4 405.5,56.4 456.8,41.1 465.0,40.0"/>
<polyline points="40.0,359.3 56.7,340.4 73.3,332.0 90.0,325.5 106.7,320.1 123.4,315.0 140.0,310.0 156.7,305.2 173.4,300.6 190.0,296.2 206.7,292.0 223.4,288.0 240.1,284.0 256.7,280.2 273.4,276.6 290.1,273.1 306.8,269.7 323.4,266.5 340.1,263.4 356.8,260.4 373.4,257.5 390.1,254.8 406.8,252.3 423.5,249.8 440.1,247.4 456.8,244.9 473.5,242.4 490.1,236.0 506.8,232.7 523.5,230.2 540.2,227.8 556.8,225.0 573.5,222.3 590.2,219.5 606.8,216.8 623.5,214.1 640.2,211.2 656.9,208.2 673.5,205.3 690.2,202.9 706.9,201.3 723.6,200.5 740.2,199.2 756.9,195.9 773.6,192.0 790.2,188.3 806.9,185.3 823.6,182.5 840.3,180.0 856.9,177.8 873.6,176.0 881.0,175.2"/>
<polyline points="40.0,359.3 56.7,343.9 73.3,337.0 90.0,331.7 106.7,327.2 123.4,323.1 140.0,319.2 156.7,315.6 173.4,312.2 190.0,308.9 206.7,305.8 223.4,302.7 240.1,299.7 256.7,296.8 273.4,294.2 290.1,292.0 306.8,290.3 323.4,288.8 340.1,287.5 356.8,286.1 373.4,284.6 390.1,282.9 406.8,281.0 423.5,279.1 440.1,277.0 456.8,274.9 473.5,272.6 490.1,270.0 506.8,267.3 523.5,264.6 540.2,262.0 556.8,259.4 573.5,256.8 590.2,254.2 606.8,251.7 623.5,249.3 640.2,247.0 656.9,244.7 673.5,242.4 690.2,240.3 706.9,238.3 723.6,236.5 740.2,234.7 756.9,233.1 773.6,231.4 790.2,229.6 806.9,227.7 823.6,225.8 840.3,223.8 856.9,221.8 873.6,219.7 881.0,218.6"/>
<polyline points="40.0,359.3 56.7,346.7 73.3,341.1 90.0,336.8 106.7,333.1 123.4,329.8 140.0,326.8 156.7,323.9 173.4,321.3 190.0,318.7 206.7,316.3 223.4,313.9 240.1,311.5 256.7,309.2 273.4,307.0 290.1,305.1 306.8,303.4 323.4,302.0 340.1,300.5 356.8,299.1 373.4,297.6 390.1,296.0 406.8,294.2 423.5,292.5 440.1,290.7 456.8,289.0 473.5,287.4 490.1,285.8 506.8,284.2 523.5,282.6 540.2,280.9 556.8,279.0 573.5,277.0 590.2,275.0 606.8,273.0 623.5,271.2 640.2,269.6 656.9,268.2 673.5,266.8 690.2,265.4 706.9,263.9 723.6,262.2 740.2,260.4 756.9,258.6 773.6,256.8 790.2,255.0 806.9,253.3 823.6,251.6 840.3,250.0 856.9,248.3 873.6,246.7 881.0,245.9"/>
<polyline points="40.0,359.3 56.7,349.3 73.3,344.8 90.0,341.4 106.7,338.5 123.4,335.8 140.0,333.3 156.7,330.9 173.4,328.6 190.0,326.4 206.7,324.4 223.4,322.5 240.1,320.6 256.7,318.8 273.4,317.1 290.1,315.6 306.8,314.3 323.4,313.1 340.1,312.0 356.8,310.9 373.4,309.6 390.1,308.1 406.8,306.4 423.5,304.6 440.1,302.9 456.8,301.4 473.5,300.0 490.1,298.8 506.8,297.5 523.5,296.3 540.2,295.0 556.8,293.6 573.5,292.1 590.2,290.7 606.8,289.3 623.5,288.0 640.2,286.9 656.9,285.9 673.5,285.0 690.2,284.0 706.9,282.9 723.6,281.6 740.2,280.2 756.9,278.7 773.6,277.1 790.2,275.6 806.9,274.1 823.6,272.6 840.3,271.1 856.9,269.6 873.6,268.0 881.0,267.2"/>
<polyline points="40.0,359.3 56.7,351.2 73.3,347.7 90.0,344.9 106.7,342.5 123.4,340.4 140.0,338.4 156.7,336.5 173.4,334.7 190.0,333.0 206.7,331.4 223.4,329.9 240.1,328.5 256.7,327.1 273.4,325.7 290.1,324.4 306.8,323.1 323.4,321.9 340.1,320.6 356.8,319.4 373.4,318.2 390.1,317.0 406.8,315.7 423.5,314.5 440.1,313.3 456.8,312.2 473.5,311.1 490.1,310.1 506.8,309.1 523.5,308.2 540.2,307.2 556.8,306.2 573.5,305.3 590.2,304.3 606.8,303.4 623.5,302.4 640.2,301.5 656.9,300.6 673.5,299.6 690.2,298.7 706.9,297.6 723.6,296.4 740.2,295.0 756.9,293.6 773.6,292.3 790.2,291.1 806.9,290.1 823.6,289.1 840.3,288.2 856.9,287.3 873.6,286.6 881.0,286.2"/>
<polyline points="40.0,359.3 56.7,352.7 73.3,349.8 90.0,347.5 106.7,345.5 123.4,343.9 140.0,342.6 156.7,341.6 173.4,340.6 190.0,339.7 206.7,338.6 223.4,337.4 240.1,336.0 256.7,334.7 273.4,333.3 290.1,332.1 306.8,330.9 323.4,329.8 340.1,328.7 356.8,327.7 373.4,326.7 390.1,325.8 406.8,325.0 423.5,324.1 440.1,323.4 456.8,322.6 473.5,321.9 490.1,321.2 506.8,320.5 523.5,319.8 540.2,319.0 556.8,318.2 573.5,317.4 590.2,316.5 606.8,315.6 623.5,314.7 640.2,313.7 656.9,312.5 673.5,311.3 690.2,310.1 706.9,309.1 723.6,308.1 740.2,307.2 756.9,306.3 773.6,305.5 790.2,304.8 806.9,304.2 823.6,303.6 840.3,303.1 856.9,302.6 873.6,302.3 881.0,302.1"/>
<polyline points="40.0,359.3 56.7,354.2 73.3,351.9 90.0,350.1 106.7,348.5 123.4,347.3 140.0,346.6 156.7,346.1 173.4,345.7 190.0,345.2 206.7,344.6 223.4,343.7 240.1,342.5 256.7,341.3 273.4,340.1 290.1,339.1 306.8,338.3 323.4,337.6 340.1,337.0 356.8,336.4 373.4,335.7 390.1,335.0 406.8,334.3 423.5,333.7 440.1,333.0 456.8,332.3 473.5,331.6 490.1,330.9 506.8,330.2 523.5,329.5 540.2,328.9 556.8,328.3 573.5,327.7 590.2,327.2 606.8,326.6 623.5,326.0 640.2,325.4 656.9,324.7 673.5,324.1 690.2,323.4 706.9,322.8 723.6,322.1 740.2,321.5 756.9,320.8 773.6,320.2 790.2,319.6 806.9,319.1 823.6,318.5 840.3,318.0 856.9,317.6 873.6,317.1 881.0,316.9"/>
<polyline points="40.0,359.3 56.7,355.6 73.3,353.9 90.0,352.5 106.7,351.1 123.4,350.5 140.0,350.4 156.7,350.4 173.4,350.4 190.0,350.4 206.7,350.3 223.4,349.9 240.1,349.0 256.7,347.9 273.4,346.9 290.1,346.1 306.8,345.6 323.4,345.1 340.1,344.8 356.8,344.3 373.4,343.9 390.1,343.4 406.8,342.8 423.5,342.3 440.1,341.7 456.8,341.2 473.5,340.7 490.1,340.3 506.8,339.9 523.5,339.4 540.2,339.0 556.8,338.6 573.5,338.2 590.2,337.7 606.8,337.3 623.5,336.9 640.2,336.5 656.9,336.0 673.5,335.6 690.2,335.2 706.9,334.8 723.6,334.4 740.2,334.1 756.9,333.7 773.6,333.4 790.2,333.0 806.9,332.6 823.6,332.3 840.3,331.9 856.9,331.5 873.6,331.1 881.0,330.9"/>
<polyline points="40.0,359.3 56.7,356.8 73.3,355.7 90.0,354.8 106.7,353.9 123.4,353.5 140.0,353.6 156.7,353.9 173.4,354.1 190.0,354.3 206.7,354.4 223.4,354.2 240.1,353.8 256.7,353.4 273.4,353.0 290.1,352.7 306.8,352.6 323.4,352.4 340.1,352.4 356.8,352.2 373.4,352.1 390.1,351.9 406.8,351.6 423.5,351.2 440.1,350.9 456.8,350.6 473.5,350.3 490.1,350.1 506.8,349.8 523.5,349.6 540.2,349.3 556.8,349.0 573.5,348.7 590.2,348.4 606.8,348.0 623.5,347.7 640.2,347.4 656.9,347.0 673.5,346.7 690.2,346.4 706.9,346.1 723.6,345.8 740.2,345.6 756.9,345.4 773.6,345.2 790.2,345.0 806.9,344.8 823.6,344.7 840.3,344.5 856.9,344.4 873.6,344.3 881.0,344.2"/>
<polyline points="40.0,359.3 56.7,359.3 73.3,359.3 90.0,359.3 106.7,359.3 123.4,359.3 140.0,359.3 156.7,359.3 173.4,359.3 190.0,359.3 206.7,359.3 223.4,359.3 240.1,359.3 256.7,359.3 273.4,359.3 290.1,359.3 306.8,359.3 323.4,359.3 340.1,359.3 356.8,359.3 373.4,359.3 390.1,359.3 406.8,359.3 423.5,359.3 440.1,359.3 456.8,359.3 473.5,359.3 490.1,359.3 506.8,359.3 523.5,359.3 540.2,359.3 556.8,359.3 573.5,359.3 590.2,359.3 606.8,359.3 623.5,359.3 640.2,359.3 656.9,359.3 673.5,359.3 690.2,359.3 706.9,359.3 723.6,359.3 740.2,359.3 756.9,359.3 773.6,359.3 790.2,359.3 806.9,359.3 823.6,359.3 840.3,359.3 856.9,359.3 873.6,359.3 881.0,359.3"/>
<polyline points="40.0,359.3 56.7,376.7 73.3,384.0 90.0,389.5 106.7,394.3 123.4,398.3 140.0,401.8 156.7,405.0 173.4,407.9 190.0,410.5 206.7,412.8 223.4,414.8 240.1,416.5 256.7,418.1 273.4,419.7 290.1,421.3 306.8,423.0 323.4,424.8 340.1,426.5 356.8,428.3 373.4,430.0 390.1,431.8 406.8,433.7 423.5,435.5 440.1,437.2 456.8,438.7 473.5,439.9 490.1,441.0 506.8,442.0 523.5,443.0 540.2,444.0 556.8,445.0 573.5,446.0 590.2,446.9 606.8,447.8 623.5,448.7 640.2,449.5 656.9,450.3 673.5,451.1 690.2,451.8 706.9,452.7 723.6,453.7 740.2,454.7 756.9,455.8 773.6,456.9 790.2,457.8 806.9,458.7 823.6,459.5 840.3,460.2 856.9,461.0 873.6,461.7 881.0,462.0"/>
<polyline points="40.0,359.3 56.7,372.5 73.3,378.0 90.0,382.2 106.7,385.7 123.4,388.8 140.0,391.5 156.7,393.9 173.4,396.1 190.0,398.2 206.7,400.2 223.4,402.1 240.1,403.9 256.7,405.7 273.4,407.3 290.1,408.9 306.8,410.4 323.4,411.9 340.1,413.4 356.8,414.7 373.4,415.9 390.1,416.9 406.8,417.9 423.5,418.7 440.1,419.6 456.8,420.6 473.5,421.7 490.1,422.8 506.8,424.0 523.5,425.2 540.2,426.3 556.8,427.4 573.5,428.5 590.2,429.5 606.8,430.5 623.5,431.3 640.2,432.0 656.9,432.5 673.5,433.0 690.2,433.6 706.9,434.2 723.6,435.0 740.2,435.9 756.9,436.8 773.6,437.7 790.2,438.3 806.9,438.8 823.6,439.2 840.3,439.6 856.9,439.9 873.6,440.1 881.0,440.1"/>
<polyline points="40.0,359.3 56.7,369.4 73.3,373.5 90.0,376.7 106.7,379.4 123.4,381.8 140.0,384.1 156.7,386.4 173.4,388.5 190.0,390.5 206.7,392.3 223.4,394.0 240.1,395.5 256.7,397.0 273.4,398.4 290.1,399.6 306.8,400.7 323.4,401.8 340.1,402.7 356.8,403.7 373.4,404.6 390.1,405.5 406.8,406.3 423.5,407.1 440.1,407.9 456.8,408.8 473.5,409.8 490.1,410.8 506.8,411.8 523.5,412.8 540.2,413.7 556.8,414.5 573.5,415.3 590.2,416.0 606.8,416.7 623.5,417.3 640.2,417.8 656.9,418.3 673.5,418.7 690.2,419.1 706.9,419.6 723.6,420.1 740.2,420.6 756.9,421.0 773.6,421.5 790.2,422.0 806.9,422.5 823.6,422.9 840.3,423.4 856.9,423.9 873.6,424.3 881.0,424.5"/>
<polyline points="40.0,359.3 56.7,367.3 73.3,370.7 90.0,373.2 106.7,375.4 123.4,377.3 140.0,379.1 156.7,380.9 173.4,382.5 190.0,384.0 206.7,385.5 223.4,386.9 240.1,388.3 256.7,389.7 273.4,390.9 290.1,392.0 306.8,393.0 323.4,393.9 340.1,394.8 356.8,395.5 373.4,396.3 390.1,397.0 406.8,397.6 423.5,398.3 440.1,398.9 456.8,399.5 473.5,400.1 490.1,400.8 506.8,401.5 523.5,402.1 540.2,402.7 556.8,403.3 573.5,403.9 590.2,404.4 606.8,404.9 623.5,405.4 640.2,405.8 656.9,406.2 673.5,406.6 690.2,407.0 706.9,407.4 723.6,407.8 740.2,408.2 756.9,408.6 773.6,409.1 790.2,409.5 806.9,409.9 823.6,410.4 840.3,410.9 856.9,411.3 873.6,411.8 881.0,412.1"/>
<polyline points="40.0,359.3 56.7,365.9 73.3,368.6 90.0,370.7 106.7,372.4 123.4,374.0 140.0,375.5 156.7,376.8 173.4,378.1 190.0,379.3 206.7,380.5 223.4,381.7 240.1,382.9 256.7,384.1 273.4,385.2 290.1,386.1 306.8,386.9 323.4,387.7 340.1,388.4 356.8,389.0 373.4,389.6 390.1,390.1 406.8,390.6 423.5,391.1 440.1,391.5 456.8,392.0 473.5,392.5 490.1,392.9 506.8,393.4 523.5,393.9 540.2,394.3 556.8,394.7 573.5,395.1 590.2,395.5 606.8,395.9 623.5,396.2 640.2,396.5 656.9,396.8 673.5,397.0 690.2,397.3 706.9,397.6 723.6,398.0 740.2,398.5 756.9,399.0 773.6,399.5 790.2,399.8 806.9,400.1 823.6,400.3 840.3,400.5 856.9,400.7 873.6,400.8 881.0,400.9"/>
<polyline points="40.0,359.3 56.7,364.4 73.3,366.6 90.0,368.2 106.7,369.6 123.4,370.8 140.0,371.9 156.7,372.9 173.4,373.8 190.0,374.7 206.7,375.6 223.4,376.5 240.1,377.5 256.7,378.4 273.4,379.3 290.1,380.0 306.8,380.6 323.4,381.2 340.1,381.7 356.8,382.1 373.4,382.6 390.1,383.0 406.8,383.5 423.5,383.8 440.1,384.2 456.8,384.6 473.5,385.0 490.1,385.3 506.8,385.7 523.5,386.0 540.2,386.3 556.8,386.6 573.5,386.9 590.2,387.1 606.8,387.4 623.5,387.6 640.2,387.8 656.9,388.0 673.5,388.2 690.2,388.4 706.9,388.6 723.6,388.9 740.2,389.3 756.9,389.7 773.6,390.1 790.2,390.4 806.9,390.7 823.6,391.0 840.3,391.2 856.9,391.5 873.6,391.7 881.0,391.8"/>
<polyline points="40.0,359.3 56.7,363.0 73.3,364.6 90.0,365.7 106.7,366.7 123.4,367.6 140.0,368.4 156.7,369.1 173.4,369.7 190.0,370.4 206.7,371.0 223.4,371.6 240.1,372.3 256.7,372.9 273.4,373.5 290.1,374.0 306.8,374.4 323.4,374.8 340.1,375.1 356.8,375.4 373.4,375.7 390.1,376.0 406.8,376.2 423.5,376.4 440.1,376.6 456.8,376.8 473.5,377.0 490.1,377.2 506.8,377.4 523.5,377.6 540.2,377.8 556.8,378.0 573.5,378.1 590.2,378.3 606.8,378.4 623.5,378.6 640.2,378.8 656.9,378.9 673.5,379.1 690.2,379.2 706.9,379.4 723.6,379.6 740.2,379.9 756.9,380.1 773.6,380.4 790.2,380.6 806.9,380.8 823.6,381.0 840.3,381.2 856.9,381.4 873.6,381.6 881.0,381.6"/>
<polyline points="40.0,359.3 56.7,361.7 73.3,362.7 90.0,363.4 106.7,364.0 123.4,364.6 140.0,365.2 156.7,365.9 173.4,366.5 190.0,367.0 206.7,367.4 223.4,367.7 240.1,368.0 256.7,368.2 273.4,368.4 290.1,368.6 306.8,368.8 323.4,369.0 340.1,369.2 356.8,369.4 373.4,369.6 390.1,369.8 406.8,369.9 423.5,370.1 440.1,370.3 456.8,370.4 473.5,370.5 490.1,370.7 506.8,370.8 523.5,370.9 540.2,371.0 556.8,371.1 573.5,371.2 590.2,371.4 606.8,371.5 623.5,371.6 640.2,371.7 656.9,371.8 673.5,371.9 690.2,372.1 706.9,372.2 723.6,372.4 740.2,372.6 756.9,372.8 773.6,373.0 790.2,373.2 806.9,373.3 823.6,373.5 840.3,373.6 856.9,373.7 873.6,373.8 881.0,373.8"/>
<polyline points="40.0,359.3 56.7,360.5 73.3,361.0 90.0,361.4 106.7,361.7 123.4,362.0 140.0,362.2 156.7,362.3 173.4,362.4 190.0,362.5 206.7,362.6 223.4,362.8 240.1,363.0 256.7,363.2 273.4,363.4 290.1,363.6 306.8,363.8 323.4,363.9 340.1,364.0 356.8,364.2 373.4,364.3 390.1,364.4 406.8,364.5 423.5,364.6 440.1,364.7 456.8,364.8 473.5,364.9 490.1,365.0 506.8,365.1 523.5,365.1 540.2,365.2 556.8,365.3 573.5,365.3 590.2,365.4 606.8,365.4 623.5,365.5 640.2,365.6 656.9,365.6 673.5,365.7 690.2,365.7 706.9,365.8 723.6,365.9 740.2,365.9 756.9,366.0 773.6,366.0 790.2,366.1 806.9,366.1 823.6,366.2 840.3,366.2 856.9,366.3 873.6,366.3 881.0,366.3"/>
<polyline points="40.0,359.3 56.1,401.8 65.3,406.7 77.3,415.2 99.0,429.3 123.6,444.6 144.7,455.4 166.4,465.2 190.0,474.6 206.7,479.3 248.7,487.8 290.4,497.5 330.9,506.9 373.7,514.5 410.1,523.0 433.6,526.3 456.5,529.8 540.1,540.7 623.5,551.2 670.1,556.2 703.0,560.0"/>
</g>
</g>
<g fill="#606060" shape-rendering="crispEdges">
<rect x="123" y="41" width="1" height="523"/>
<rect x="206" y="41" width="1" height="523"/>
<rect x="290" y="41" width="1" height="523"/>
<rect x="373" y="41" width="1" height="523"/>
<rect x="456" y="41" width="1" height="523"/>
<rect x="540" y="41" width="1" height="523"/>
<rect x="623" y="41" width="1" height="523"/>
<rect x="706" y="41" width="1" height="523"/>
<rect x="790" y="41" width="1" height="523"/>
<rect x="873" y="41" width="1" height="523"/>
<rect x="37" y="430" width="844" height="1"/>
<rect x="37" y="300" width="844" height="1"/>
<rect x="37" y="170" width="844" height="1"/>
<rect x="40" y="562" width="1" height="2"/>
<rect x="37" y="40" width="2" height="1"/>
<rect x="37" y="560" width="2" height="1"/>
<rect x="39" y="39" width="843" height="2"/>
<rect x="39" y="560" width="843" height="2"/>
<rect x="39" y="39" width="2" height="523"/>
<rect x="881" y="39" width="1" height="523"/>
</g>
<g fill="none" clip-path="url(#plot)">
<polyline points="40.0,359.5 180.8,359.5 185.6,346.5 197.0,346.5 200.4,339.5 206.9,339.5 213.8,327.5 237.0,327.5 240.4,323.5 267.4,323.5 273.5,316.5 281.3,316.5 286.2,309.5 301.3,309.5 306.5,299.5 310.0,299.5 313.0,296.5 385.0,296.5 390.4,294.5 395.7,279.5 400.0,275.5 403.5,272.5 504.1,272.5 505.2,271.5 530.2,271.5 535.7,266.5 550.9,266.5 556.3,256.5 568.3,256.5 569.3,255.5 580.5,255.5 583.5,252.5 607.4,252.5 613.9,246.5 616.5,239.5 881.0,239.5" stroke="#000" stroke-width="3.7" stroke-linejoin="round"/>
<rect x="40" y="357" width="141" height="5" fill="#000" stroke="none" shape-rendering="crispEdges"/>
<rect x="186" y="344" width="11" height="5" fill="#000" stroke="none" shape-rendering="crispEdges"/>
<rect x="200" y="337" width="7" height="5" fill="#000" stroke="none" shape-rendering="crispEdges"/>
<rect x="214" y="325" width="23" height="5" fill="#000" stroke="none" shape-rendering="crispEdges"/>
<rect x="240" y="321" width="27" height="5" fill="#000" stroke="none" shape-rendering="crispEdges"/>
<rect x="274" y="314" width="7" height="5" fill="#000" stroke="none" shape-rendering="crispEdges"/>
<rect x="286" y="307" width="15" height="5" fill="#000" stroke="none" shape-rendering="crispEdges"/>
<rect x="306" y="297" width="4" height="5" fill="#000" stroke="none" shape-rendering="crispEdges"/>
<rect x="313" y="294" width="72" height="5" fill="#000" stroke="none" shape-rendering="crispEdges"/>
<rect x="404" y="270" width="100" height="5" fill="#000" stroke="none" shape-rendering="crispEdges"/>
<rect x="505" y="269" width="25" height="5" fill="#000" stroke="none" shape-rendering="crispEdges"/>
<rect x="536" y="264" width="15" height="5" fill="#000" stroke="none" shape-rendering="crispEdges"/>
<rect x="556" y="254" width="12" height="5" fill="#000" stroke="none" shape-rendering="crispEdges"/>
<rect x="569" y="253" width="11" height="5" fill="#000" stroke="none" shape-rendering="crispEdges"/>
<rect x="584" y="250" width="23" height="5" fill="#000" stroke="none" shape-rendering="crispEdges"/>
<rect x="616" y="237" width="265" height="5" fill="#000" stroke="none" shape-rendering="crispEdges"/>
<polyline points="40.0,359.5 180.8,359.5 185.6,346.5 197.0,346.5 200.4,339.5 206.9,339.5 213.8,327.5 237.0,327.5 240.4,323.5 267.4,323.5 273.5,316.5 281.3,316.5 286.2,309.5 301.3,309.5 306.5,299.5 310.0,299.5 313.0,296.5 385.0,296.5 390.4,294.5 395.7,279.5 400.0,275.5 403.5,272.5 504.1,272.5 505.2,271.5 530.2,271.5 535.7,266.5 550.9,266.5 556.3,256.5 568.3,256.5 569.3,255.5 580.5,255.5 583.5,252.5 607.4,252.5 613.9,246.5 616.5,239.5 881.0,239.5" stroke="#ffcc00" stroke-width="2.1" stroke-linejoin="round"/>
<rect x="40" y="358" width="141" height="3" fill="#ffcc00" stroke="none" shape-rendering="crispEdges"/>
<rect x="186" y="345" width="11" height="3" fill="#ffcc00" stroke="none" shape-rendering="crispEdges"/>
<rect x="200" y="338" width="7" height="3" fill="#ffcc00" stroke="none" shape-rendering="crispEdges"/>
<rect x="214" y="326" width="23" height="3" fill="#ffcc00" stroke="none" shape-rendering="crispEdges"/>
<rect x="240" y="322" width="27" height="3" fill="#ffcc00" stroke="none" shape-rendering="crispEdges"/>
<rect x="274" y="315" width="7" height="3" fill="#ffcc00" stroke="none" shape-rendering="crispEdges"/>
<rect x="286" y="308" width="15" height="3" fill="#ffcc00" stroke="none" shape-rendering="crispEdges"/>
<rect x="306" y="298" width="4" height="3" fill="#ffcc00" stroke="none" shape-rendering="crispEdges"/>
<rect x="313" y="295" width="72" height="3" fill="#ffcc00" stroke="none" shape-rendering="crispEdges"/>
<rect x="404" y="271" width="100" height="3" fill="#ffcc00" stroke="none" shape-rendering="crispEdges"/>
<rect x="505" y="270" width="25" height="3" fill="#ffcc00" stroke="none" shape-rendering="crispEdges"/>
<rect x="536" y="265" width="15" height="3" fill="#ffcc00" stroke="none" shape-rendering="crispEdges"/>
<rect x="556" y="255" width="12" height="3" fill="#ffcc00" stroke="none" shape-rendering="crispEdges"/>
<rect x="569" y="254" width="11" height="3" fill="#ffcc00" stroke="none" shape-rendering="crispEdges"/>
<rect x="584" y="251" width="23" height="3" fill="#ffcc00" stroke="none" shape-rendering="crispEdges"/>
<rect x="616" y="238" width="265" height="3" fill="#ffcc00" stroke="none" shape-rendering="crispEdges"/>
<polyline points="40.3,358.7 46.3,363.6 51.2,370.1 54.5,381.0 55.6,387.5 62.6,396.2 65.3,404.4 68.6,406.3 70.8,405.8 73.5,411.4 76.8,415.8 80.6,433.5 881.0,433.5" stroke="#000" stroke-width="3.7" stroke-linejoin="round"/>
<rect x="81" y="431" width="800" height="5" fill="#000" stroke="none" shape-rendering="crispEdges"/>
<polyline points="40.3,358.7 46.3,363.6 51.2,370.1 54.5,381.0 55.6,387.5 62.6,396.2 65.3,404.4 68.6,406.3 70.8,405.8 73.5,411.4 76.8,415.8 80.6,433.5 881.0,433.5" stroke="#00f0c8" stroke-width="2.1" stroke-linejoin="round"/>
<rect x="81" y="432" width="800" height="3" fill="#00f0c8" stroke="none" shape-rendering="crispEdges"/>
</g>
<g opacity="0.999">
<text x="292.0" y="15.0" font-size="14.6" class="b" fill="#000" textLength="336.0" lengthAdjust="spacingAndGlyphs" style="white-space:pre" stroke="#000" stroke-width="0.3">Macquarie Global Infr Total Rtrn Fn - 2016</text>
<text x="284.0" y="26.2" font-size="12.6" class="b" fill="#000" textLength="350.0" lengthAdjust="spacingAndGlyphs" style="white-space:pre" stroke="#000" stroke-width="0.3">Predicted High to Date (blue) &amp;  Low to Date (red)</text>
<text x="306.5" y="37.2" font-size="12.5" fill="#000" textLength="306.0" lengthAdjust="spacingAndGlyphs" style="white-space:pre">vol:0.97% iter:2000 step:10 hurst:0.57 drift:0.07/0</text>
<text x="36.4" y="572.0" font-size="11" fill="#000" textLength="6.0" lengthAdjust="spacingAndGlyphs" style="white-space:pre" font-family="Liberation Sans, sans-serif">0</text>
<text x="119.4" y="572.0" font-size="11" fill="#000" textLength="6.0" lengthAdjust="spacingAndGlyphs" style="white-space:pre" font-family="Liberation Sans, sans-serif">5</text>
<text x="199.4" y="572.0" font-size="11" fill="#000" textLength="12.0" lengthAdjust="spacingAndGlyphs" style="white-space:pre" font-family="Liberation Sans, sans-serif">10</text>
<text x="283.4" y="572.0" font-size="11" fill="#000" textLength="12.0" lengthAdjust="spacingAndGlyphs" style="white-space:pre" font-family="Liberation Sans, sans-serif">15</text>
<text x="366.4" y="572.0" font-size="11" fill="#000" textLength="12.0" lengthAdjust="spacingAndGlyphs" style="white-space:pre" font-family="Liberation Sans, sans-serif">20</text>
<text x="449.4" y="572.0" font-size="11" fill="#000" textLength="12.0" lengthAdjust="spacingAndGlyphs" style="white-space:pre" font-family="Liberation Sans, sans-serif">25</text>
<text x="533.4" y="572.0" font-size="11" fill="#000" textLength="12.0" lengthAdjust="spacingAndGlyphs" style="white-space:pre" font-family="Liberation Sans, sans-serif">30</text>
<text x="616.4" y="572.0" font-size="11" fill="#000" textLength="12.0" lengthAdjust="spacingAndGlyphs" style="white-space:pre" font-family="Liberation Sans, sans-serif">35</text>
<text x="699.4" y="572.0" font-size="11" fill="#000" textLength="12.0" lengthAdjust="spacingAndGlyphs" style="white-space:pre" font-family="Liberation Sans, sans-serif">40</text>
<text x="783.4" y="572.0" font-size="11" fill="#000" textLength="12.0" lengthAdjust="spacingAndGlyphs" style="white-space:pre" font-family="Liberation Sans, sans-serif">45</text>
<text x="866.4" y="572.0" font-size="11" fill="#000" textLength="12.0" lengthAdjust="spacingAndGlyphs" style="white-space:pre" font-family="Liberation Sans, sans-serif">50</text>
<text x="29.1" y="561.5" font-size="11" fill="#000" textLength="12.0" lengthAdjust="spacingAndGlyphs" style="white-space:pre" transform="rotate(-90 35.1 561.5)" font-family="Liberation Sans, sans-serif">10</text>
<text x="29.1" y="431.5" font-size="11" fill="#000" textLength="12.0" lengthAdjust="spacingAndGlyphs" style="white-space:pre" transform="rotate(-90 35.1 431.5)" font-family="Liberation Sans, sans-serif">15</text>
<text x="29.1" y="301.5" font-size="11" fill="#000" textLength="12.0" lengthAdjust="spacingAndGlyphs" style="white-space:pre" transform="rotate(-90 35.1 301.5)" font-family="Liberation Sans, sans-serif">20</text>
<text x="29.1" y="171.5" font-size="11" fill="#000" textLength="12.0" lengthAdjust="spacingAndGlyphs" style="white-space:pre" transform="rotate(-90 35.1 171.5)" font-family="Liberation Sans, sans-serif">25</text>
<text x="29.1" y="41.5" font-size="11" fill="#000" textLength="12.0" lengthAdjust="spacingAndGlyphs" style="white-space:pre" transform="rotate(-90 35.1 41.5)" font-family="Liberation Sans, sans-serif">30</text>
<text x="445.0" y="585.5" font-size="12.6" class="b" fill="#000" textLength="28.0" lengthAdjust="spacingAndGlyphs" style="white-space:pre" stroke="#000" stroke-width="0.3">Week</text>
<text x="-17.5" y="300.5" font-size="12.6" class="b" fill="#000" textLength="63.0" lengthAdjust="spacingAndGlyphs" style="white-space:pre" transform="rotate(-90 14.0 300.5)" stroke="#000" stroke-width="0.3">Price ($)</text>
<rect x="19" y="343" width="16" height="33" fill="#e6ffe6"/>
<text x="17.0" y="359.5" font-size="12.5" class="b" fill="#0a2a0a" textLength="30.0" lengthAdjust="spacingAndGlyphs" style="white-space:pre" transform="rotate(-90 32.0 359.5)" stroke="#0a2a0a" stroke-width="0.3">17.72</text>
<text x="883.0" y="175.4" font-size="9.2" class="b" fill="#000" textLength="26.0" lengthAdjust="spacingAndGlyphs" style="white-space:pre" stroke="#000" stroke-width="0.35">24.80</text>
<text x="883.0" y="218.8" font-size="9.2" class="b" fill="#000" textLength="26.0" lengthAdjust="spacingAndGlyphs" style="white-space:pre" stroke="#000" stroke-width="0.35">23.13</text>
<text x="883.0" y="246.1" font-size="9.2" class="b" fill="#000" textLength="26.0" lengthAdjust="spacingAndGlyphs" style="white-space:pre" stroke="#000" stroke-width="0.35">22.08</text>
<text x="883.0" y="267.4" font-size="9.2" class="b" fill="#000" textLength="26.0" lengthAdjust="spacingAndGlyphs" style="white-space:pre" stroke="#000" stroke-width="0.35">21.26</text>
<text x="883.0" y="286.4" font-size="9.2" class="b" fill="#000" textLength="26.0" lengthAdjust="spacingAndGlyphs" style="white-space:pre" stroke="#000" stroke-width="0.35">20.53</text>
<text x="883.0" y="302.3" font-size="9.2" class="b" fill="#000" textLength="26.0" lengthAdjust="spacingAndGlyphs" style="white-space:pre" stroke="#000" stroke-width="0.35">19.92</text>
<text x="883.0" y="317.1" font-size="9.2" class="b" fill="#000" textLength="26.0" lengthAdjust="spacingAndGlyphs" style="white-space:pre" stroke="#000" stroke-width="0.35">19.35</text>
<text x="883.0" y="331.1" font-size="9.2" class="b" fill="#000" textLength="26.0" lengthAdjust="spacingAndGlyphs" style="white-space:pre" stroke="#000" stroke-width="0.35">18.81</text>
<text x="883.0" y="344.4" font-size="9.2" class="b" fill="#000" textLength="26.0" lengthAdjust="spacingAndGlyphs" style="white-space:pre" stroke="#000" stroke-width="0.35">18.30</text>
<text x="883.0" y="462.2" font-size="9.2" class="b" fill="#000" textLength="26.0" lengthAdjust="spacingAndGlyphs" style="white-space:pre" stroke="#000" stroke-width="0.35">13.77</text>
<text x="883.0" y="440.3" font-size="9.2" class="b" fill="#000" textLength="26.0" lengthAdjust="spacingAndGlyphs" style="white-space:pre" stroke="#000" stroke-width="0.35">14.61</text>
<text x="883.0" y="424.7" font-size="9.2" class="b" fill="#000" textLength="26.0" lengthAdjust="spacingAndGlyphs" style="white-space:pre" stroke="#000" stroke-width="0.35">15.21</text>
<text x="883.0" y="412.3" font-size="9.2" class="b" fill="#000" textLength="26.0" lengthAdjust="spacingAndGlyphs" style="white-space:pre" stroke="#000" stroke-width="0.35">15.69</text>
<text x="883.0" y="401.1" font-size="9.2" class="b" fill="#000" textLength="26.0" lengthAdjust="spacingAndGlyphs" style="white-space:pre" stroke="#000" stroke-width="0.35">16.12</text>
<text x="883.0" y="392.0" font-size="9.2" class="b" fill="#000" textLength="26.0" lengthAdjust="spacingAndGlyphs" style="white-space:pre" stroke="#000" stroke-width="0.35">16.47</text>
<text x="883.0" y="381.8" font-size="9.2" class="b" fill="#000" textLength="26.0" lengthAdjust="spacingAndGlyphs" style="white-space:pre" stroke="#000" stroke-width="0.35">16.86</text>
<text x="883.0" y="374.0" font-size="9.2" class="b" fill="#000" textLength="26.0" lengthAdjust="spacingAndGlyphs" style="white-space:pre" stroke="#000" stroke-width="0.35">17.16</text>
<text x="883.0" y="366.5" font-size="9.2" class="b" fill="#000" textLength="26.0" lengthAdjust="spacingAndGlyphs" style="white-space:pre" stroke="#000" stroke-width="0.35">17.45</text>
<text x="898.0" y="239.6" font-size="12.5" class="b" fill="#a86c00" textLength="42.0" lengthAdjust="spacingAndGlyphs" style="white-space:pre" transform="rotate(-90 919.0 239.6)" stroke="#a86c00" stroke-width="0.3">22.3123</text>
<text x="898.0" y="433.8" font-size="12.5" class="b" fill="#00a060" textLength="42.0" lengthAdjust="spacingAndGlyphs" style="white-space:pre" transform="rotate(-90 919.0 433.8)" stroke="#00a060" stroke-width="0.3">14.8474</text>
<g fill="none" stroke="#000080" stroke-width="1.4"><circle cx="48.5" cy="541" r="5.2"/><path d="M50.8 539.2 A2.9 2.9 0 1 0 50.8 542.8"/></g>
<text x="57.0" y="544.8" font-size="12.6" class="b" fill="#000080" textLength="105.0" lengthAdjust="spacingAndGlyphs" style="white-space:pre" stroke="#000080" stroke-width="0.3">www.textbiz.org</text>
<text x="43.0" y="557.0" font-size="12.6" class="b" fill="#000080" textLength="217.0" lengthAdjust="spacingAndGlyphs" style="white-space:pre" stroke="#000080" stroke-width="0.3">The Research Foundation of SUNY</text>
<text x="282.0" y="598.0" font-size="12.5" fill="#000" textLength="18.0" lengthAdjust="spacingAndGlyphs" style="white-space:pre">LTD</text>
<rect x="302" y="592" width="13" height="5" fill="#000"/><rect x="302" y="593" width="13" height="3" fill="#00f0c8"/>
<text x="318.0" y="598.0" font-size="12.5" fill="#000" textLength="18.0" lengthAdjust="spacingAndGlyphs" style="white-space:pre">HTD</text>
<rect x="338" y="592" width="13" height="5" fill="#000"/><rect x="338" y="593" width="13" height="3" fill="#ffcc00"/>
<text x="355.0" y="598.0" font-size="12.5" fill="#000" textLength="48.0" lengthAdjust="spacingAndGlyphs" style="white-space:pre">prob:0%&lt;</text>
<rect x="404" y="587" width="16" height="6" fill="#fff4f4" shape-rendering="crispEdges"/>
<rect x="404" y="593" width="16" height="6" fill="#f4f4ff" shape-rendering="crispEdges"/>
<text x="420.0" y="598.0" font-size="12.5" fill="#000" textLength="30.0" lengthAdjust="spacingAndGlyphs" style="white-space:pre">&lt;10%&lt;</text>
<rect x="452" y="587" width="16" height="6" fill="#ffd8d8" shape-rendering="crispEdges"/>
<rect x="452" y="593" width="16" height="6" fill="#d8d8ff" shape-rendering="crispEdges"/>
<text x="468.0" y="598.0" font-size="12.5" fill="#000" textLength="30.0" lengthAdjust="spacingAndGlyphs" style="white-space:pre">&lt;20%&lt;</text>
<rect x="500" y="587" width="16" height="6" fill="#ffbaba" shape-rendering="crispEdges"/>
<rect x="500" y="593" width="16" height="6" fill="#babaff" shape-rendering="crispEdges"/>
<text x="516.0" y="598.0" font-size="12.5" fill="#000" textLength="30.0" lengthAdjust="spacingAndGlyphs" style="white-space:pre">&lt;30%&lt;</text>
<rect x="548" y="587" width="16" height="6" fill="#ff9d9d" shape-rendering="crispEdges"/>
<rect x="548" y="593" width="16" height="6" fill="#9d9dff" shape-rendering="crispEdges"/>
<text x="564.0" y="598.0" font-size="12.5" fill="#000" textLength="30.0" lengthAdjust="spacingAndGlyphs" style="white-space:pre">&lt;40%&lt;</text>
<rect x="596" y="587" width="16" height="6" fill="#ff8080" shape-rendering="crispEdges"/>
<rect x="596" y="593" width="16" height="6" fill="#8080ff" shape-rendering="crispEdges"/>
<text x="612.0" y="598.0" font-size="12.5" fill="#000" textLength="24.0" lengthAdjust="spacingAndGlyphs" style="white-space:pre">&lt;50%</text>
</g>
</svg>
</body></html>
